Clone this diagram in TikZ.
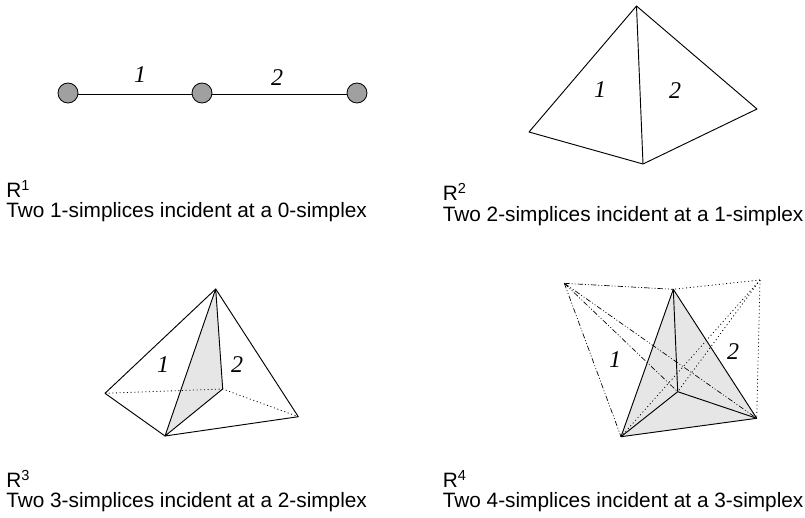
\documentclass[tikz,border=0pt]{standalone}
\usepackage{fontspec}
\setmainfont{Liberation Sans}
\newfontfamily\labelfont{Liberation Serif}
\usepackage{tikz}
\definecolor{smgray}{HTML}{A0A0A0}
\definecolor{smface}{HTML}{E6E6E6}
\begin{document}
\begin{tikzpicture}[x=0.75pt, y=-0.75pt,
    every node/.style={font=\fontsize{15.6}{18}\selectfont},
    edge/.style={line width=0.7pt, line join=round},
    hidden/.style={line width=0.6pt, dash pattern=on 0.75pt off 2pt},
    outer/.style={line width=0.5pt, dash pattern=on 4pt off 1.5pt on 0.75pt off 1.5pt on 0.75pt off 1.5pt},
    vertex/.style={circle, draw, fill=smgray, line width=0.6pt, minimum size=15pt, inner sep=0pt},
    side/.style={font=\labelfont\itshape\fontsize{18}{18}\selectfont, inner sep=0pt},
    caption/.style={anchor=base west, inner sep=0pt}]
  \useasboundingbox (0,0) rectangle (805,517);
  % R1
  \node[vertex] (p1) at (68,93) {};
  \node[vertex] (p2) at (202,93) {};
  \node[vertex] (p3) at (357,93) {};
  \draw[edge] ([yshift=-1.2pt]p1.east) -- ([yshift=-1.2pt]p2.west);
  \draw[edge] ([yshift=-1.2pt]p2.east) -- ([yshift=-1.2pt]p3.west);
  \node[side] (l1a) at (140,75) {1};
  \node[side] (l1b) at (277,78) {2};
  \node[caption] (r1) at (6,197) {R\textsuperscript{1}};
  \node[caption] (c1) at (6,217) {Two 1-simplices incident at a 0-simplex};
  % R2
  \coordinate (a2) at (636.5,6);
  \coordinate (b2) at (529,132);
  \coordinate (c2) at (643,164);
  \coordinate (d2) at (757,109);
  \draw[edge] (a2) -- (b2) -- (c2) -- (d2) -- cycle;
  \draw[edge] (a2) -- (c2);
  \node[side] (l2a) at (600,90) {1};
  \node[side] (l2b) at (675,91) {2};
  \node[caption] (r2) at (442.5,200) {R\textsuperscript{2}};
  \node[caption] (c2t) at (442.5,221) {Two 2-simplices incident at a 1-simplex};
  % R3
  \coordinate (a3) at (215.7,289);
  \coordinate (b3) at (105,393.3);
  \coordinate (c3) at (165,436);
  \coordinate (d3) at (298.3,416.7);
  \coordinate (e3) at (222.7,389);
  \fill[smface] (a3) -- (c3) -- (e3) -- cycle;
  \draw[hidden] (b3) -- (e3) -- (d3);
  \draw[edge] (a3) -- (b3) -- (c3) -- (d3) -- cycle;
  \draw[edge] (a3) -- (c3) -- (e3) -- cycle;
  \node[side] (l3a) at (163,365) {1};
  \node[side] (l3b) at (237,365) {2};
  \node[caption] (r3) at (6,487) {R\textsuperscript{3}};
  \node[caption] (c3t) at (6,507) {Two 3-simplices incident at a 2-simplex};
  % R4
  \coordinate (a4) at (673.3,289.3);
  \coordinate (b4) at (621,436.7);
  \coordinate (c4) at (756.7,418.3);
  \coordinate (d4) at (677.7,391.7);
  \coordinate (e4) at (564.3,283.3);
  \coordinate (f4) at (760,280);
  \fill[smface] (a4) -- (b4) -- (c4) -- cycle;
  \draw[outer] (e4) -- (a4);
  \draw[outer] (e4) -- (b4);
  \draw[outer] (e4) -- (d4);
  \draw[outer] (e4) -- (c4);
  \draw[hidden] (f4) -- (a4);
  \draw[hidden] (f4) -- (b4);
  \draw[hidden] (f4) -- (c4);
  \draw[hidden] (f4) -- (d4);
  \draw[edge] (a4) -- (b4) -- (c4) -- cycle;
  \draw[edge] (a4) -- (d4);
  \draw[edge] (b4) -- (d4) -- (c4);
  \node[side] (l4a) at (615,360) {1};
  \node[side] (l4b) at (733,352) {2};
  \node[caption] (r4) at (442.5,487) {R\textsuperscript{4}};
  \node[caption] (c4t) at (442.5,507) {Two 4-simplices incident at a 3-simplex};
\end{tikzpicture}
\end{document}
